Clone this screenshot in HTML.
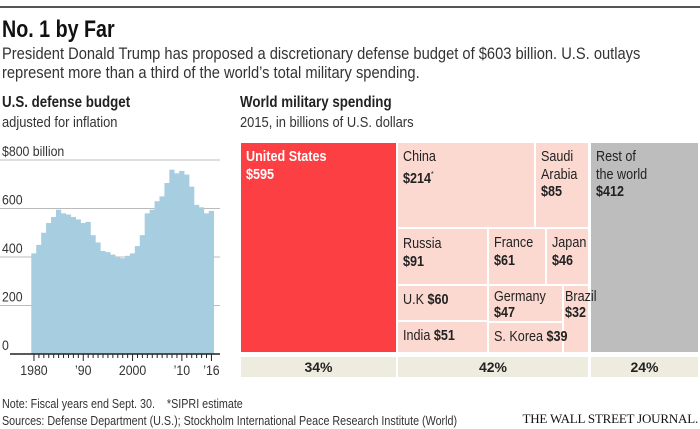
<!DOCTYPE html>
<html><head><meta charset="utf-8"><style>
body{margin:0;width:700px;height:429px;background:#fff;font-family:"Liberation Sans",sans-serif;color:#222;position:relative;overflow:hidden}
.t{position:absolute;white-space:nowrap;transform-origin:0 0;transform:scaleX(0.86)}
.cell{position:absolute;background:#fbd9d1;box-sizing:border-box;padding:5px 0 0 5px;font-size:15px;line-height:17.5px;color:#222;overflow:visible}
.cell>span{display:inline-block;white-space:nowrap;transform-origin:0 0;transform:scaleX(0.84)}
.cell b{font-weight:bold}
.pct{position:absolute;top:357px;height:20px;background:#eeecdf;font-weight:bold;font-size:14px;text-align:center;line-height:21px}
</style></head><body>
<div style="position:absolute;left:0;top:6px;width:700px;height:2px;background:#555"></div>
<div class="t" style="left:2px;top:16px;font-size:24px;font-weight:bold;color:#111;transform:scaleX(0.82)">No. 1 by Far</div>
<div class="t" style="left:2px;top:45px;font-size:16.5px;line-height:19px;color:#333;transform:scaleX(0.89)">President Donald Trump has proposed a discretionary defense budget of $603 billion. U.S. outlays<br>represent more than a third of the world’s total military spending.</div>
<div class="t" style="left:2px;top:94px;font-size:15.5px;font-weight:bold">U.S. defense budget</div>
<div class="t" style="left:2px;top:114px;font-size:15px;color:#333">adjusted for inflation</div>
<div class="t" style="left:240px;top:94px;font-size:15.5px;font-weight:bold">World military spending</div>
<div class="t" style="left:240px;top:114px;font-size:15px;color:#333">2015, in billions of U.S. dollars</div>

<svg id="bars" width="230" height="260" style="position:absolute;left:0;top:130px"></svg>

<div class="cell" style="left:241px;top:143px;width:155px;height:209px;background:#fb3f42;color:#fff;font-weight:bold"><span>United States<br>$595</span></div>
<div class="cell" style="left:398px;top:143px;width:136px;height:84px"><span>China<br><b>$214</b><sup style="font-size:8px">*</sup></span></div>
<div class="cell" style="left:536px;top:143px;width:52px;height:84px"><span>Saudi<br>Arabia<br><b>$85</b></span></div>
<div class="cell" style="left:591px;top:143px;width:107px;height:209px;background:#bdbdbd"><span>Rest of<br>the world<br><b>$412</b></span></div>
<div class="cell" style="left:398px;top:229px;width:89px;height:55px;padding-top:6px"><span>Russia<br><b>$91</b></span></div>
<div class="cell" style="left:489px;top:229px;width:56px;height:55px"><span>France<br><b>$61</b></span></div>
<div class="cell" style="left:547px;top:229px;width:41px;height:55px"><span>Japan<br><b>$46</b></span></div>
<div class="cell" style="left:398px;top:286px;width:89px;height:34px"><span>U.K <b>$60</b></span></div>
<div class="cell" style="left:398px;top:322px;width:89px;height:30px"><span>India <b>$51</b></span></div>
<div class="cell" style="left:489px;top:286px;width:73px;height:35px;line-height:16px;padding-top:3px"><span>Germany<br><b>$47</b></span></div>
<div class="cell" style="left:564px;top:286px;width:24px;height:66px;padding-left:1px;line-height:16px;padding-top:3px"><span>Brazil<br><b>$32</b></span></div>
<div class="cell" style="left:489px;top:323px;width:73px;height:29px;z-index:2"><span>S. Korea <b>$39</b></span></div>

<div class="pct" style="left:241px;width:155px">34%</div>
<div class="pct" style="left:398px;width:190px">42%</div>
<div class="pct" style="left:591px;width:107px">24%</div>

<div class="t" style="left:2px;top:397px;font-size:12.5px;color:#333">Note: Fiscal years end Sept. 30. &nbsp;&nbsp;&nbsp;*SIPRI estimate</div>
<div class="t" style="left:2px;top:414px;font-size:12.5px;color:#333">Sources: Defense Department (U.S.); Stockholm International Peace Research Institute (World)</div>
<div style="position:absolute;right:2px;top:411px;font-family:'Liberation Serif',serif;font-size:13px;letter-spacing:-0.2px;color:#111">THE WALL STREET JOURNAL.</div>

<script>
const years = [1980,1981,1982,1983,1984,1985,1986,1987,1988,1989,1990,1991,1992,1993,1994,1995,1996,1997,1998,1999,2000,2001,2002,2003,2004,2005,2006,2007,2008,2009,2010,2011,2012,2013,2014,2015,2016];
const budget = [415,450,500,540,565,595,580,575,565,555,540,545,490,460,425,420,410,400,395,405,415,445,490,580,595,630,650,705,760,745,755,740,690,615,605,580,590];
const yTicks = [0,200,400,600,800];
const yTickLabels = ["0","200","400","600","$800 billion"];
const xLabelYears = [1980,1990,2000,2010,2016];
const xLabels = ["1980","’90","2000","’10","’16"];
const NS='http://www.w3.org/2000/svg';
const svg=document.getElementById('bars');
const y0=224, yTop=30, bw=4.93, x0=31.5;
const y=v=>y0-(v/800)*(y0-yTop);
const x=yr=>x0+(yr-years[0])*bw;
function mk(t,a){const e=document.createElementNS(NS,t);for(const k in a)e.setAttribute(k,a[k]);svg.appendChild(e);return e;}
yTicks.forEach((v,i)=>{
  if(v>0){const l=mk('line',{x1:0,x2:220,y1:y(v),y2:y(v),stroke:'#bbb','stroke-width':1});
  
  }
  const t=mk('text',{x:2/0.88,y:y(v)-4,'font-size':14,fill:'#333','font-family':'Liberation Sans, sans-serif',transform:'scale(0.88,1)'});
  t.textContent=yTickLabels[i];
  
  
});
years.forEach((yr,i)=>{
  const r=mk('rect',{x:x(yr)-0.2,y:y(budget[i]),width:bw+0.3,height:y0-y(budget[i]),fill:'#a6cde0'});
  
  
  const big=xLabelYears.includes(yr);
  const tk=mk('line',{x1:x(yr)+bw/2,x2:x(yr)+bw/2,y1:y0,y2:y0+(big?7:4),stroke:'#222','stroke-width':1});
  
  
});
const ax=mk('line',{x1:10,x2:220,y1:y0,y2:y0,stroke:'#222','stroke-width':1.5});


xLabelYears.forEach((yr,i)=>{
  const t=mk('text',{x:(x(yr)+bw/2)/0.88,y:y0+21,'font-size':14,fill:'#333','text-anchor':'middle','font-family':'Liberation Sans, sans-serif',transform:'scale(0.88,1)'});
  t.textContent=xLabels[i];
  
  
});
</script>
</body></html>
